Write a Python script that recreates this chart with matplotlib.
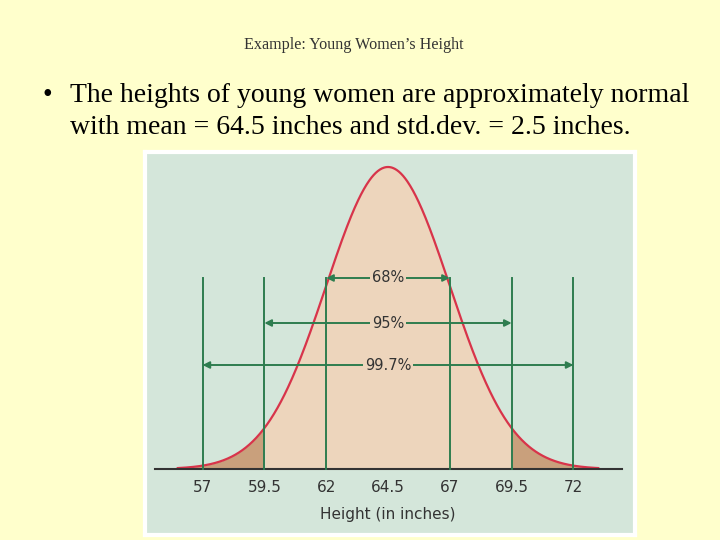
import numpy as np
import matplotlib.pyplot as plt

mean, sd = 64.5, 2.5
ticks = [57, 59.5, 62, 64.5, 67, 69.5, 72]
ranges = [(62, 67, "68%"), (59.5, 69.5, "95%"), (57, 72, "99.7%")]

W, H = 720, 540
fig = plt.figure(figsize=(W/100, H/100), dpi=100)
fig.patch.set_facecolor("#FFFFCC")

fig.text(354/W, 1-45/H, "Example: Young Women\u2019s Height", ha="center", va="center",
         family="Liberation Serif", fontsize=11.6, color="#333333")
fig.text(43/W, 1-95/H, "\u2022", ha="left", va="center", family="Liberation Serif", fontsize=20)
fig.text(70/W, 1-95/H, "The heights of young women are approximately normal",
         ha="left", va="center", family="Liberation Serif", fontsize=20)
fig.text(70/W, 1-128/H, "with mean = 64.5 inches and std.dev. = 2.5 inches.",
         ha="left", va="center", family="Liberation Serif", fontsize=20)

x0, x1, y0, y1 = 145, 635, 152, 535
ax = fig.add_axes([x0/W, 1-y1/H, (x1-x0)/W, (y1-y0)/H])
ax.set_facecolor("#D4E6DA")
for s in ax.spines.values():
    s.set_color("white"); s.set_linewidth(3)
ax.set_xticks([]); ax.set_yticks([])

ppu = 24.73
pk = 1/(sd*np.sqrt(2*np.pi))
ypx = 302/pk
def ydat(py): return (469-py)/ypx
ax.set_xlim(mean-(388-x0)/ppu, mean+(x1-388)/ppu)
ax.set_ylim(ydat(y1), ydat(y0))

x = np.linspace(mean-3.4*sd, mean+3.4*sd, 600)
y = np.exp(-0.5*((x-mean)/sd)**2)*pk
ax.fill_between(x, 0, y, where=(x >= 59.5) & (x <= 69.5), color="#EDD5BC", lw=0)
ax.fill_between(x, 0, y, where=(x <= 59.5), color="#C9A07C", lw=0)
ax.fill_between(x, 0, y, where=(x >= 69.5), color="#C9A07C", lw=0)
ax.plot(x, y, color="#D8344A", lw=1.6)

ax.plot([mean-(388-155)/ppu, mean+(622-388)/ppu], [0, 0], color="#333333", lw=1.5)
ytop = ydat(278)
for t in ticks:
    if t != mean:
        ax.plot([t, t], [0, ytop], color="#2E7D4F", lw=1.4)
for (a, b, lab), py in zip(ranges, [278, 323, 365]):
    yy = ydat(py)
    for end in (a, b):
        ax.annotate("", xy=(end, yy), xytext=(mean, yy),
                    arrowprops=dict(arrowstyle="-|>", color="#2E7D4F", lw=1.4,
                                    mutation_scale=10, shrinkA=0, shrinkB=0))
    ax.text(mean, yy, lab, ha="center", va="center", fontsize=10.5, family="DejaVu Sans",
            color="#333333", bbox=dict(boxstyle="square,pad=0.15", fc="#EDD5BC", ec="none"))
for t in ticks:
    ax.text(t, ydat(488), f"{t:g}", ha="center", va="center", fontsize=11, color="#333333")
ax.text(mean, ydat(514), "Height (in inches)", ha="center", va="center", fontsize=11, color="#333333")

fig.savefig("out.png", dpi=100, facecolor=fig.get_facecolor())
